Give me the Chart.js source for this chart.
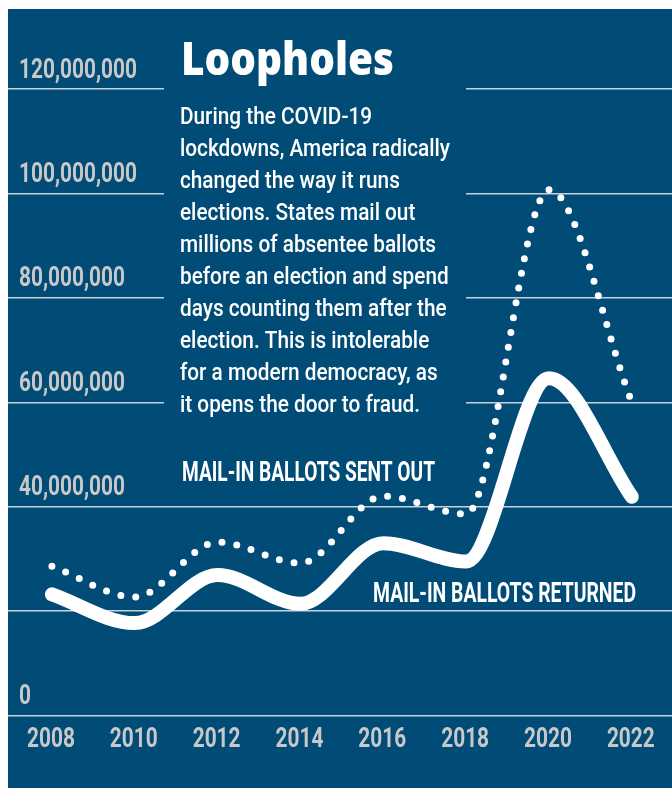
<!DOCTYPE html>
<html>
<head>
<meta charset="utf-8">
<title>Loopholes</title>
<script src="https://cdn.jsdelivr.net/npm/chart.js@4"></script>
<style>
  html, body { margin: 0; padding: 0; background: #fff; }
  canvas { display: block; }
</style>
</head>
<body>
<canvas id="ballotChart" width="672" height="788"></canvas>
<script>
// data
const years = [2008, 2010, 2012, 2014, 2016, 2018, 2020, 2022];
const ballotsSent = [28600000, 22700000, 33200000, 29200000, 42000000, 38600000, 100700000, 60000000];
const ballotsReturned = [23200000, 17700000, 26900000, 21400000, 33000000, 29500000, 64600000, 41900000];
const yTickLabels = ['0', '', '40,000,000', '60,000,000', '80,000,000', '100,000,000', '120,000,000'];
const xTickLabels = ['2008', '2010', '2012', '2014', '2016', '2018', '2020', '2022'];

const titleText = 'Loopholes';
const bodyLines = [
    'During the COVID-19',
    'lockdowns, America radically',
    'changed the way it runs',
    'elections. States mail out',
    'millions of absentee ballots',
    'before an election and spend',
    'days counting them after the',
    'election. This is intolerable',
    'for a modern democracy, as',
    'it opens the door to fraud.'
];
const sentLabel = 'MAIL-IN BALLOTS SENT OUT';
const returnedLabel = 'MAIL-IN BALLOTS RETURNED';

const BLUE = '#014c77';
const GREY = '#c8c8c8';
const TICK_FONT = "700 28px 'Roboto', sans-serif";

// draw text squeezed / stretched to a given width
function fitText(ctx, text, x, y, width) {
    const w = ctx.measureText(text).width;
    ctx.save();
    ctx.translate(x, y);
    ctx.scale(width / w, 1);
    ctx.fillText(text, 0, 0);
    ctx.restore();
}

const decor = {
    id: 'decor',
    beforeDraw(chart) {
        const ctx = chart.ctx;
        ctx.save();
        ctx.fillStyle = BLUE;
        ctx.fillRect(8, 9, chart.width - 8, chart.height - 9);
        ctx.restore();
    },
    beforeDatasetsDraw(chart) {
        // the text block sits on top of the upper gridlines
        const ctx = chart.ctx;
        ctx.save();
        ctx.fillStyle = BLUE;
        ctx.fillRect(164, 20, 302, 410);
        ctx.restore();
    },
    afterDatasetsDraw(chart) {
        const ctx = chart.ctx;
        ctx.save();
        ctx.textBaseline = 'alphabetic';
        ctx.textAlign = 'left';

        // condensed tick labels, placed from the chart's own scales
        ctx.fillStyle = GREY;
        ctx.font = TICK_FONT;
        const k = 118 / ctx.measureText('120,000,000').width;
        const ys = chart.scales.y;
        ys.ticks.forEach((t, i) => {
            const label = yTickLabels[i];
            if (!label) return;
            const py = ys.getPixelForValue(t.value);
            fitText(ctx, label, 19, py - 11.5, ctx.measureText(label).width * k);
        });
        const xs = chart.scales.x;
        xs.ticks.forEach((t, i) => {
            const label = xTickLabels[i];
            const w = ctx.measureText(label).width * k;
            fitText(ctx, label, xs.getPixelForValue(t.value) - w / 2 - 1, 747, w);
        });

        ctx.fillStyle = '#ffffff';
        ctx.font = "800 46px 'Open Sans', 'Roboto', sans-serif";
        fitText(ctx, titleText, 181, 75, 213);

        ctx.font = "500 24px 'Roboto', 'Lato', sans-serif";
        const s = 270 / ctx.measureText(bodyLines[1]).width;
        bodyLines.forEach((line, i) => {
            fitText(ctx, line, 180, 124 + i * 32, ctx.measureText(line).width * s);
        });

        ctx.font = "700 28px 'Roboto', sans-serif";
        fitText(ctx, sentLabel, 182, 481, 253);
        fitText(ctx, returnedLabel, 373, 602, 263);
        ctx.restore();
    }
};

document.addEventListener('DOMContentLoaded', () => {
    const ctx = document.getElementById('ballotChart').getContext('2d');

    new Chart(ctx, {
        type: 'line',
        data: {
            datasets: [
                {
                    label: 'Mail-in ballots sent out',
                    data: years.map((y, i) => ({ x: y, y: ballotsSent[i] })),
                    borderColor: '#ffffff',
                    borderWidth: 7,
                    borderDash: [0, 15],
                    borderCapStyle: 'round',
                    cubicInterpolationMode: 'monotone',
                    pointRadius: 0,
                    fill: false,
                    clip: false
                },
                {
                    label: 'Mail-in ballots returned',
                    data: years.map((y, i) => ({ x: y, y: ballotsReturned[i] })),
                    borderColor: '#ffffff',
                    borderWidth: 14,
                    borderCapStyle: 'round',
                    borderJoinStyle: 'round',
                    cubicInterpolationMode: 'monotone',
                    pointRadius: 0,
                    fill: false,
                    clip: false
                }
            ]
        },
        options: {
            responsive: false,
            animation: false,
            events: [],
            layout: { padding: { left: 8, top: 89, right: 0, bottom: 0 } },
            plugins: {
                legend: { display: false },
                tooltip: { enabled: false }
            },
            scales: {
                x: {
                    type: 'linear',
                    min: 2006.94,
                    max: 2022.97,
                    afterBuildTicks: (scale) => {
                        scale.ticks = years.map(v => ({ value: v }));
                    },
                    afterFit: (scale) => { scale.height = 72.5; },
                    grid: { display: false, drawTicks: false },
                    border: { display: false },
                    ticks: { display: false }
                },
                y: {
                    min: 0,
                    max: 120000000,
                    afterFit: (scale) => { scale.width = 0; },
                    grid: { color: '#c9d1d8', lineWidth: 1.5, drawTicks: false },
                    border: { display: false },
                    ticks: { display: false, stepSize: 20000000 }
                }
            }
        },
        plugins: [decor]
    });
});
</script>
</body>
</html>
